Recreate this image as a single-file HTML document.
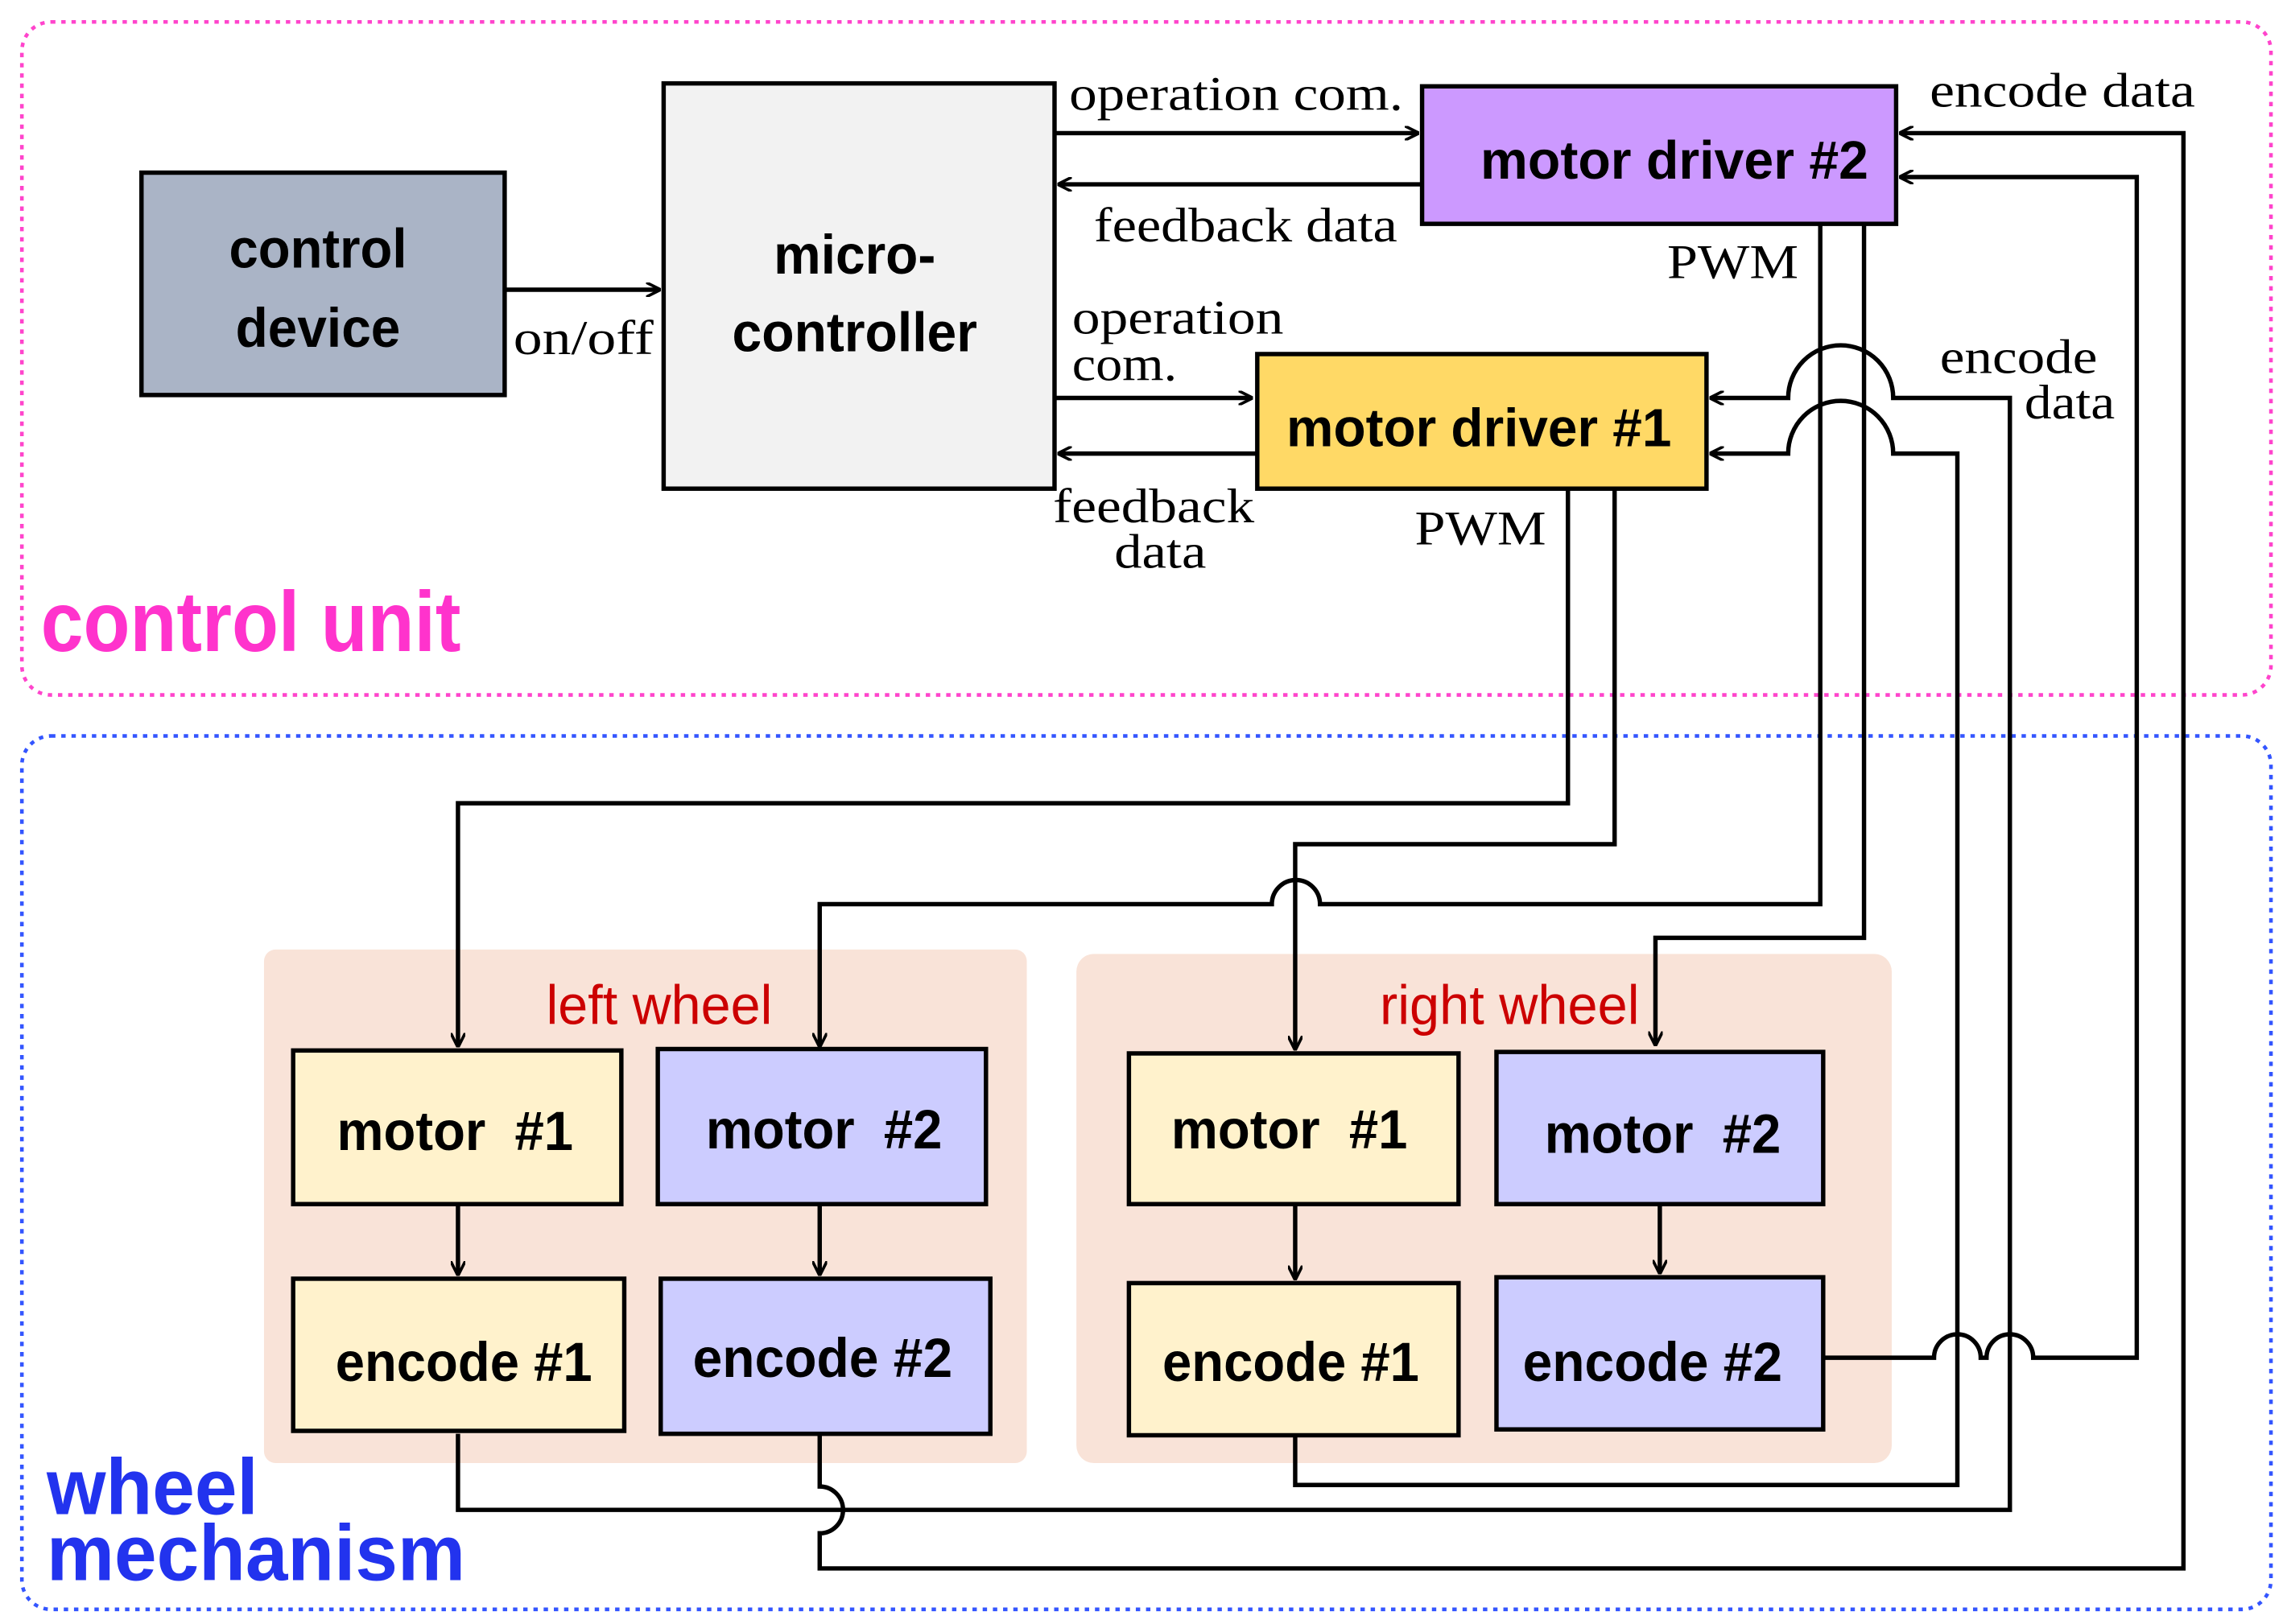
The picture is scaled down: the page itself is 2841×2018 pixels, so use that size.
<!DOCTYPE html>
<html><head><meta charset="utf-8"><style>
html,body{margin:0;padding:0;background:#fff;}
svg{display:block;}
.b{font-family:"Liberation Sans",sans-serif;font-weight:bold;fill:#000;}
.s{font-family:"Liberation Serif",serif;font-size:33px;fill:#000;}
.l{stroke:#000;stroke-width:3;fill:none;}
</style></head><body>
<svg width="2841" height="2018" viewBox="0 0 1568 1110" preserveAspectRatio="none" xmlns="http://www.w3.org/2000/svg">
<defs><marker id="a" markerWidth="10" markerHeight="10" refX="9" refY="5" orient="auto" markerUnits="userSpaceOnUse"><path d="M0,0 L10,5 L0,10" fill="none" stroke="#000" stroke-width="2"/></marker></defs>
<rect x="15" y="15" width="1542" height="460" rx="20" fill="none" stroke="#ff44cc" stroke-width="2.5" stroke-dasharray="3,4"/>
<rect x="15" y="503" width="1542" height="597" rx="20" fill="none" stroke="#3355ff" stroke-width="2.5" stroke-dasharray="3,4"/>
<text x="28" y="445" class="b" style="font-size:58px;fill:#ff33cc" textLength="288" lengthAdjust="spacingAndGlyphs">control unit</text>
<text x="32" y="1035" class="b" style="font-size:54px;fill:#2233ee" textLength="145" lengthAdjust="spacingAndGlyphs">wheel</text>
<text x="32" y="1080" class="b" style="font-size:54px;fill:#2233ee" textLength="287" lengthAdjust="spacingAndGlyphs">mechanism</text>
<rect x="181" y="649" width="523" height="351" rx="8" fill="#f9e3d8"/>
<rect x="738" y="652" width="559" height="348" rx="12" fill="#f9e3d8"/>
<text x="452" y="700" text-anchor="middle" style="font-family:'Liberation Sans',sans-serif;font-size:38px;fill:#cc0000" textLength="155" lengthAdjust="spacingAndGlyphs">left wheel</text>
<text x="1035" y="700" text-anchor="middle" style="font-family:'Liberation Sans',sans-serif;font-size:38px;fill:#cc0000" textLength="178" lengthAdjust="spacingAndGlyphs">right wheel</text>
<rect x="97" y="118" width="249" height="152" fill="#aab4c6" stroke="#000" stroke-width="3"/>
<text x="218" y="183" text-anchor="middle" class="b" style="font-size:38px" textLength="122" lengthAdjust="spacingAndGlyphs">control</text>
<text x="218" y="237" text-anchor="middle" class="b" style="font-size:38px" textLength="113" lengthAdjust="spacingAndGlyphs">device</text>
<rect x="455" y="57" width="268" height="277" fill="#f2f2f2" stroke="#000" stroke-width="3"/>
<text x="586" y="187" text-anchor="middle" class="b" style="font-size:38px" textLength="111" lengthAdjust="spacingAndGlyphs">micro-</text>
<text x="586" y="240" text-anchor="middle" class="b" style="font-size:38px" textLength="168" lengthAdjust="spacingAndGlyphs">controller</text>
<rect x="975" y="59" width="325" height="94" fill="#cc99ff" stroke="#000" stroke-width="3"/>
<text x="1148" y="122" text-anchor="middle" class="b" style="font-size:37px" textLength="266" lengthAdjust="spacingAndGlyphs">motor driver #2</text>
<rect x="862" y="242" width="308" height="92" fill="#ffd966" stroke="#000" stroke-width="3"/>
<text x="1014" y="305" text-anchor="middle" class="b" style="font-size:37px" textLength="264" lengthAdjust="spacingAndGlyphs">motor driver #1</text>
<g stroke="#000" stroke-width="3">
<rect x="201" y="718" width="225" height="105" fill="#fff2cc"/>
<rect x="451" y="717" width="225" height="106" fill="#ccccff"/>
<rect x="201" y="874" width="227" height="104" fill="#fff2cc"/>
<rect x="453" y="874" width="226" height="106" fill="#ccccff"/>
<rect x="774" y="720" width="226" height="103" fill="#fff2cc"/>
<rect x="1026" y="719" width="224" height="104" fill="#ccccff"/>
<rect x="774" y="877" width="226" height="104" fill="#fff2cc"/>
<rect x="1026" y="873" width="224" height="104" fill="#ccccff"/>
</g>
<g class="b" style="font-size:38px" text-anchor="middle">
<text x="312" y="786" xml:space="preserve" textLength="162" lengthAdjust="spacingAndGlyphs">motor  #1</text>
<text x="565" y="785" xml:space="preserve" textLength="162" lengthAdjust="spacingAndGlyphs">motor  #2</text>
<text x="318" y="944" textLength="176" lengthAdjust="spacingAndGlyphs">encode #1</text>
<text x="564" y="941" textLength="178" lengthAdjust="spacingAndGlyphs">encode #2</text>
<text x="884" y="785" xml:space="preserve" textLength="162" lengthAdjust="spacingAndGlyphs">motor  #1</text>
<text x="1140" y="788" xml:space="preserve" textLength="162" lengthAdjust="spacingAndGlyphs">motor  #2</text>
<text x="885" y="944" textLength="176" lengthAdjust="spacingAndGlyphs">encode #1</text>
<text x="1133" y="944" textLength="178" lengthAdjust="spacingAndGlyphs">encode #2</text>
</g>
<text x="352" y="242" class="s" textLength="96" lengthAdjust="spacingAndGlyphs">on/off</text>
<text x="733" y="75" class="s" textLength="229" lengthAdjust="spacingAndGlyphs">operation com.</text>
<text x="750" y="165" class="s" textLength="208" lengthAdjust="spacingAndGlyphs">feedback data</text>
<text x="735" y="228" class="s" textLength="145" lengthAdjust="spacingAndGlyphs">operation</text>
<text x="735" y="260" class="s" textLength="72" lengthAdjust="spacingAndGlyphs">com.</text>
<text x="722" y="357" class="s" textLength="138" lengthAdjust="spacingAndGlyphs">feedback</text>
<text x="764" y="388" class="s" textLength="63" lengthAdjust="spacingAndGlyphs">data</text>
<text x="1143" y="190" class="s" textLength="90" lengthAdjust="spacingAndGlyphs">PWM</text>
<text x="970" y="372" class="s" textLength="90" lengthAdjust="spacingAndGlyphs">PWM</text>
<text x="1323" y="73" class="s" textLength="182" lengthAdjust="spacingAndGlyphs">encode data</text>
<text x="1330" y="255" class="s" textLength="108" lengthAdjust="spacingAndGlyphs">encode</text>
<text x="1388" y="286" class="s" textLength="62" lengthAdjust="spacingAndGlyphs">data</text>
<g class="l">
<path d="M346,198 H452" marker-end="url(#a)"/>
<path d="M723,91 H972" marker-end="url(#a)"/>
<path d="M975,126 H726" marker-end="url(#a)"/>
<path d="M723,272 H858" marker-end="url(#a)"/>
<path d="M862,310 H726" marker-end="url(#a)"/>
<path d="M1075,334 V549 H314 V715" marker-end="url(#a)"/>
<path d="M1107,334 V577 H888 V717" marker-end="url(#a)"/>
<path d="M1248,153 V618 H905 A16.5,16.5 0 0 0 872,618 H562 V715" marker-end="url(#a)"/>
<path d="M1278,153 V641 H1135 V714" marker-end="url(#a)"/>
<path d="M314,823 V871" marker-end="url(#a)"/>
<path d="M562,823 V871" marker-end="url(#a)"/>
<path d="M888,823 V874" marker-end="url(#a)"/>
<path d="M1138,823 V870" marker-end="url(#a)"/>
<path d="M1250,928 H1326 A16,16 0 0 1 1358,928 H1362 A16,16 0 0 1 1394,928 H1465 V121 H1303" marker-end="url(#a)"/>
<path d="M562,980 V1016 A16,16 0 0 1 562,1048 V1072 H1497 V91 H1303" marker-end="url(#a)"/>
<path d="M314,980 V1032 H1378 V272 H1298 A36,36 0 0 0 1226,272 H1173" marker-end="url(#a)"/>
<path d="M888,982 V1015 H1342 V310 H1298 A36,36 0 0 0 1226,310 H1173" marker-end="url(#a)"/>
</g>
</svg>
</body></html>
